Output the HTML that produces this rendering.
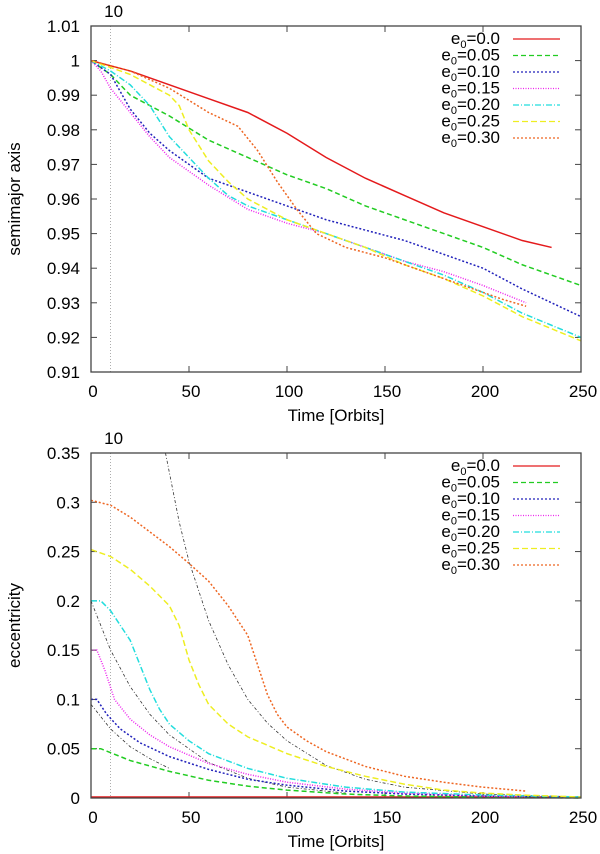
<!DOCTYPE html>
<html><head><meta charset="utf-8"><style>
body{margin:0;background:#fff;width:600px;height:854px;overflow:hidden}
svg{display:block;font-family:"Liberation Sans",sans-serif}
</style></head><body>
<svg id="c" width="600" height="854"></svg>
<script>
const xTicks=[0,50,100,150,200,250];
const topYTicks=[0.91,0.92,0.93,0.94,0.95,0.96,0.97,0.98,0.99,1,1.01];
const topYLabels=["0.91","0.92","0.93","0.94","0.95","0.96","0.97","0.98","0.99","1","1.01"];
const botYTicks=[0,0.05,0.1,0.15,0.2,0.25,0.3,0.35];
const botYLabels=["0","0.05","0.1","0.15","0.2","0.25","0.3","0.35"];
const seriesNames=["0.0","0.05","0.10","0.15","0.20","0.25","0.30"];
const colors=["#e41a1c","#22cc22","#2222bb","#ee22ee","#22dddd","#eeee22","#ee6622"];
const dashes=["","5,3","2,2","1,1.5","6,2,1,2","6,3","2,2"];
// semimajor axis
const aT0=[0,20,40,60,80,100,120,140,160,180,200,220,235];
const aV0=[1.0,0.997,0.993,0.989,0.985,0.979,0.972,0.966,0.961,0.956,0.952,0.948,0.946];
const aT1=[0,10,20,40,60,80,100,120,140,160,180,200,220,250];
const aV1=[1.0,0.996,0.990,0.984,0.977,0.972,0.967,0.963,0.958,0.954,0.950,0.946,0.941,0.935];
const aT2=[0,10,20,30,40,60,80,100,120,140,160,180,200,220,250];
const aV2=[1.0,0.996,0.986,0.979,0.974,0.966,0.962,0.958,0.954,0.951,0.948,0.944,0.940,0.934,0.926];
const aT3=[0,5,10,20,30,40,60,80,100,120,140,160,180,200,222];
const aV3=[1.0,0.997,0.992,0.985,0.978,0.972,0.964,0.957,0.953,0.950,0.946,0.942,0.939,0.935,0.930];
const aT4=[0,10,20,30,40,50,60,70,80,100,120,140,160,180,200,220,250];
const aV4=[1.0,0.997,0.993,0.987,0.978,0.972,0.966,0.961,0.958,0.954,0.950,0.946,0.942,0.938,0.933,0.927,0.920];
const aT5=[0,20,40,45,50,60,70,80,100,120,140,160,180,200,220,250];
const aV5=[1.0,0.996,0.990,0.987,0.980,0.971,0.965,0.960,0.954,0.950,0.946,0.941,0.937,0.932,0.926,0.919];
const aT6=[0,20,40,60,75,85,95,105,115,130,150,170,190,210,222];
const aV6=[1.0,0.997,0.992,0.985,0.981,0.974,0.965,0.957,0.950,0.946,0.943,0.939,0.935,0.931,0.929];
// eccentricity
const eT0=[0,250];
const eV0=[0.001,0.001];
const eT1=[0,5,10,20,40,60,80,100,130,160,200,250];
const eV1=[0.05,0.05,0.046,0.038,0.027,0.018,0.012,0.008,0.004,0.002,0.001,0];
const eT2=[0,3,8,15,25,40,60,80,100,130,160,200,250];
const eV2=[0.10,0.10,0.085,0.07,0.056,0.042,0.029,0.019,0.013,0.007,0.004,0.002,0.001];
const eT3=[0,3,7,12,20,30,40,60,80,100,130,160,200,222];
const eV3=[0.15,0.15,0.13,0.10,0.08,0.064,0.052,0.035,0.024,0.016,0.009,0.005,0.002,0.001];
const eT4=[0,5,10,15,20,25,30,35,40,50,60,80,100,130,160,200,250];
const eV4=[0.20,0.20,0.19,0.175,0.16,0.135,0.11,0.09,0.075,0.058,0.045,0.03,0.02,0.011,0.006,0.003,0.001];
const eT5=[0,10,20,30,40,45,50,55,60,70,80,100,120,140,160,180,200,220,250];
const eV5=[0.252,0.245,0.232,0.215,0.195,0.175,0.14,0.115,0.095,0.075,0.062,0.045,0.032,0.022,0.014,0.008,0.005,0.003,0.001];
const eT6=[0,10,20,30,40,50,60,70,80,85,90,95,100,110,120,140,160,180,200,222];
const eV6=[0.302,0.297,0.285,0.27,0.255,0.238,0.22,0.195,0.165,0.135,0.105,0.085,0.072,0.058,0.047,0.032,0.022,0.016,0.011,0.007];
const g1T=[38,45,50,60,70,80,90,100,120,140,160,200,250];
const g1V=[0.35,0.28,0.24,0.18,0.135,0.1,0.076,0.058,0.033,0.019,0.011,0.004,0.001];
const g2T=[0,10,20,30,40,60,80,100,130];
const g2V=[0.2,0.15,0.113,0.085,0.064,0.036,0.02,0.011,0.005];
const g3T=[0,10,20,30,40];
const g3V=[0.095,0.07,0.052,0.04,0.03];

const NS="http://www.w3.org/2000/svg";
const svg=document.getElementById('c');
function el(t,a,p){const e=document.createElementNS(NS,t);for(const k in a)e.setAttribute(k,a[k]);(p||svg).appendChild(e);return e;}
const X0=91,X1=581;
function xs(t){return X0+(t/250)*(X1-X0);}
function panel(top,bot,ymin,ymax,yT,yL,ylabel,series,guides,pname){
  const g=el('g',{});
  
  
  const ys=v=>bot-(v-ymin)/(ymax-ymin)*(bot-top);
  const rl=el('line',{x1:xs(10),x2:xs(10),y1:top,y2:bot,stroke:'#999','stroke-width':0.8,'stroke-dasharray':'1,2'},g);
  
  
  const rt=el('text',{x:xs(10)+3,y:top-9,'font-size':17,'text-anchor':'middle'},g);rt.textContent='10';
  
  
  yT.forEach((v,i)=>{const y=ys(v);
    el('line',{x1:X0,x2:X0+6,y1:y,y2:y,stroke:'#444'},g);el('line',{x1:X1,x2:X1-6,y1:y,y2:y,stroke:'#444'},g);
    const t=el('text',{x:X0-11,y:y+6,'font-size':17,'text-anchor':'end'},g);t.textContent=yL[i];
    
    });
  xTicks.forEach(v=>{const x=xs(v);
    el('line',{x1:x,x2:x,y1:bot,y2:bot-6,stroke:'#444'},g);el('line',{x1:x,x2:x,y1:top,y2:top+6,stroke:'#444'},g);
    const t=el('text',{x:x+2,y:bot+25,'font-size':17,'text-anchor':'middle'},g);t.textContent=v;
    
    });
  const xt=el('text',{x:(X0+X1)/2,y:bot+49,'font-size':17,'text-anchor':'middle'},g);xt.textContent='Time [Orbits]';
  
  
  const yt=el('text',{x:0,y:0,'font-size':17,'text-anchor':'middle',transform:`translate(20,${(top+bot)/2}) rotate(-90)`},g);yt.textContent=ylabel;
  
  
  guides.forEach(([T,V])=>{const p=el('polyline',{points:T.map((t,i)=>xs(t)+','+ys(V[i])).join(' '),fill:'none',stroke:'#333','stroke-width':0.8,'stroke-dasharray':'3,2,1,2'},g);
    
    });
  series.forEach(([T,V],k)=>{const p=el('polyline',{points:T.map((t,i)=>xs(t)+','+ys(V[i])).join(' '),fill:'none',stroke:colors[k],'stroke-width':1.5,'stroke-dasharray':dashes[k]},g);
    
    });
  const fr=el('rect',{x:X0,y:top,width:X1-X0,height:bot-top,fill:'none',stroke:'#444','stroke-width':1.3},g);
  
  
  seriesNames.forEach((n,k)=>{const y=top+13+k*16.5;
    const t=el('text',{x:500,y:y+5,'font-size':17,'text-anchor':'end'},g);
    t.innerHTML='e<tspan font-size="11" dy="4">0</tspan><tspan dy="-4">='+n+'</tspan>';
    
    
    const l=el('line',{x1:513,x2:560,y1:y,y2:y,stroke:colors[k],'stroke-width':1.2,'stroke-dasharray':dashes[k]},g);
    
    });
}
panel(26,372,0.91,1.01,topYTicks,topYLabels,'semimajor axis',
 [[aT0,aV0],[aT1,aV1],[aT2,aV2],[aT3,aV3],[aT4,aV4],[aT5,aV5],[aT6,aV6]],[],'semimajor-axis-panel');
panel(453,798,0,0.35,botYTicks,botYLabels,'eccentricity',
 [[eT0,eV0],[eT1,eV1],[eT2,eV2],[eT3,eV3],[eT4,eV4],[eT5,eV5],[eT6,eV6]],[[g1T,g1V],[g2T,g2V],[g3T,g3V]],'eccentricity-panel');
</script>
</body></html>
